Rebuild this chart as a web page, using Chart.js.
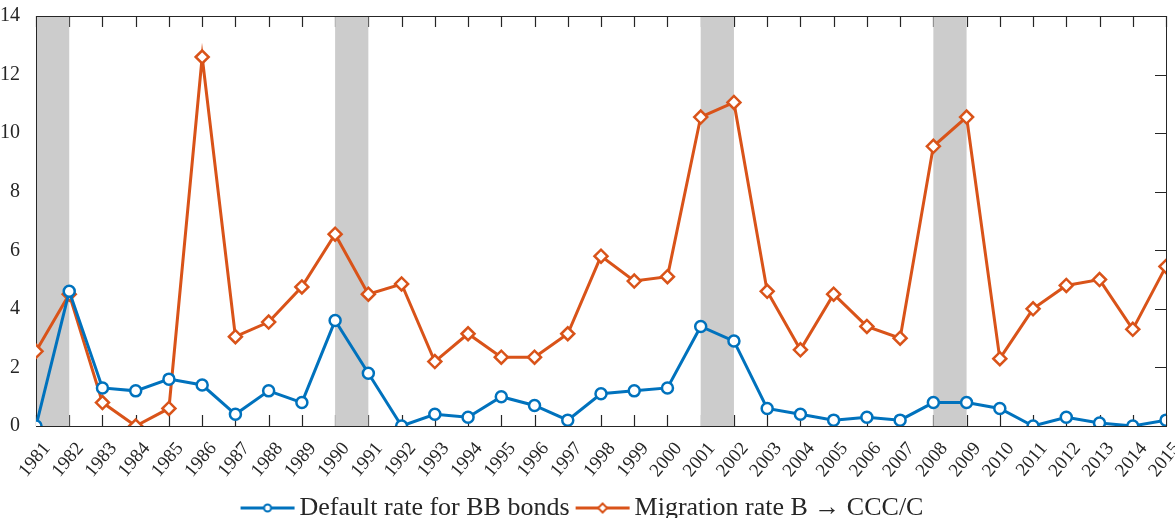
<!DOCTYPE html>
<html>
<head>
<meta charset="utf-8">
<script src="https://cdn.jsdelivr.net/npm/chart.js@4.4.1/dist/chart.umd.min.js"></script>
<style>
  html, body { margin: 0; padding: 0; background: #fff; }
  #wrap { width: 1175px; height: 518px; position: relative; }
</style>
</head>
<body>
<div id="wrap"><canvas id="chart"></canvas></div>
<script>
// years on the x axis
var years = [];
for (var yr = 1981; yr <= 2015; yr++) years.push(yr);

// default rate for BB bonds (%)
var defaultBB = [0.0, 4.6, 1.3, 1.2, 1.6, 1.4, 0.4, 1.2, 0.8, 3.6,
                 1.8, 0.0, 0.4, 0.3, 1.0, 0.7, 0.2, 1.1, 1.2, 1.3,
                 3.4, 2.9, 0.6, 0.4, 0.2, 0.3, 0.2, 0.8, 0.8, 0.6,
                 0.0, 0.3, 0.1, 0.0, 0.2];

// migration rate B -> CCC/C (%)
var migrationB = [2.55, 4.5, 0.8, 0.0, 0.6, 12.6, 3.05, 3.55, 4.75, 6.55,
                  4.5, 4.85, 2.2, 3.15, 2.35, 2.35, 3.15, 5.8, 4.95, 5.1,
                  10.55, 11.05, 4.6, 2.6, 4.5, 3.4, 3.0, 9.55, 10.55, 2.3,
                  4.0, 4.8, 5.0, 3.3, 5.45];

// recession bands [start, end]
var recessions = [[1981, 1982], [1990, 1991], [2001, 2002], [2008, 2009]];

var yTicks = [0, 2, 4, 6, 8, 10, 12, 14];

var blue = '#0072BD';
var orange = '#D95319';
var axisColor = '#262626';
var fontFamily = '"Liberation Serif", "Times New Roman", serif';

function toPoints(arr) {
    return years.map(function(y, i) { return { x: y, y: arr[i] }; });
}

// legend symbol: short line with a small marker in the middle
function legendSymbol(color, shape) {
    var c = document.createElement('canvas');
    c.width = 56;
    c.height = 12;
    var g = c.getContext('2d');
    g.strokeStyle = color;
    g.lineWidth = 3;
    g.beginPath();
    g.moveTo(1, 6);
    g.lineTo(55, 6);
    g.stroke();
    g.fillStyle = '#fff';
    g.lineWidth = 2;
    g.beginPath();
    if (shape === 'circle') {
        g.arc(28, 6, 3.5, 0, Math.PI * 2);
    } else {
        g.moveTo(28, 1.5); g.lineTo(32.5, 6); g.lineTo(28, 10.5); g.lineTo(23.5, 6); g.closePath();
    }
    g.fill();
    g.stroke();
    return c;
}

var boxPlugin = {
    id: 'boxPlugin',
    afterLayout: function(chart) {
        // let the rotated year labels run below the short x scale box
        chart.scales.x.bottom = chart.height;
        // push legend down toward the bottom edge
        var lg = chart.legend;
        if (lg) {
            lg.top += 13;
            lg.bottom += 13;
        }
    },
    beforeDatasetsDraw: function(chart) {
        var ctx = chart.ctx, a = chart.chartArea;
        var xs = chart.scales.x, ys = chart.scales.y;
        var len = 11;
        ctx.save();
        ctx.strokeStyle = axisColor;
        ctx.lineWidth = 1.2;
        ctx.beginPath();
        years.forEach(function(v) {
            var px = Math.round(xs.getPixelForValue(v)) + 0.5;
            ctx.moveTo(px, a.top); ctx.lineTo(px, a.top + len);
            ctx.moveTo(px, a.bottom); ctx.lineTo(px, a.bottom - len);
        });
        yTicks.forEach(function(v) {
            var py = Math.round(ys.getPixelForValue(v)) + 0.5;
            ctx.moveTo(a.left, py); ctx.lineTo(a.left + len, py);
            ctx.moveTo(a.right, py); ctx.lineTo(a.right - len, py);
        });
        ctx.stroke();

        ctx.fillStyle = '#CCCCCC';
        recessions.forEach(function(r) {
            var x0 = xs.getPixelForValue(r[0]), x1 = xs.getPixelForValue(r[1]);
            ctx.fillRect(x0, a.top, x1 - x0, a.bottom - a.top);
        });

        ctx.lineWidth = 1;
        ctx.strokeRect(Math.round(a.left) + 0.5, Math.round(a.top) + 0.5,
            Math.round(a.right - a.left), Math.round(a.bottom - a.top));
        ctx.restore();
    }
};

var chart = new Chart(document.getElementById('chart'), {
    type: 'line',
    data: {
        datasets: [
            {
                label: 'Default rate for BB bonds',
                data: toPoints(defaultBB),
                borderColor: blue,
                backgroundColor: '#fff',
                borderWidth: 3,
                pointStyle: 'circle',
                pointRadius: 5.5,
                pointBorderWidth: 2.5,
                pointBackgroundColor: '#fff',
                pointBorderColor: blue,
                tension: 0
            },
            {
                label: 'Migration rate B \u2192 CCC/C',
                data: toPoints(migrationB),
                borderColor: orange,
                backgroundColor: '#fff',
                borderWidth: 3,
                pointStyle: 'rectRot',
                pointRadius: 6.5,
                pointBorderWidth: 2.5,
                pointBackgroundColor: '#fff',
                pointBorderColor: orange,
                tension: 0
            }
        ]
    },
    options: {
        responsive: true,
        maintainAspectRatio: false,
        animation: false,
        layout: { padding: { top: 16, right: 3, left: 0, bottom: 0 } },
        plugins: {
            tooltip: { enabled: false },
            legend: {
                position: 'bottom',
                labels: {
                    usePointStyle: true,
                    pointStyleWidth: 38,
                    padding: 14,
                    color: axisColor,
                    font: { family: fontFamily, size: 26 },
                    generateLabels: function(ch) {
                        return ch.data.datasets.map(function(ds, i) {
                            return {
                                text: ds.label,
                                datasetIndex: i,
                                pointStyle: legendSymbol(ds.borderColor, i === 0 ? 'circle' : 'diamond'),
                                fontColor: axisColor,
                                lineWidth: 0,
                                hidden: false
                            };
                        });
                    }
                }
            }
        },
        scales: {
            x: {
                type: 'linear',
                min: years[0],
                max: years[years.length - 1],
                grid: { display: false },
                border: { display: false },
                afterBuildTicks: function(scale) {
                    scale.ticks = years.map(function(v) { return { value: v }; });
                },
                afterFit: function(scale) {
                    scale.paddingLeft = 0;
                    scale.paddingRight = 0;
                    scale.height = 42;
                },
                ticks: {
                    autoSkip: false,
                    minRotation: 50,
                    maxRotation: 50,
                    padding: 4,
                    labelOffset: 11,
                    color: axisColor,
                    font: { family: fontFamily, size: 19 },
                    callback: function(v) { return String(v); }
                }
            },
            y: {
                min: 0,
                max: 14,
                grid: { display: false },
                border: { display: false },
                afterBuildTicks: function(scale) {
                    scale.ticks = yTicks.map(function(v) { return { value: v }; });
                },
                afterFit: function(scale) {
                    scale.width = 36;
                    scale.paddingTop = 0;
                    scale.paddingBottom = 0;
                },
                ticks: {
                    padding: 8,
                    color: axisColor,
                    font: { family: fontFamily, size: 20 },
                    callback: function(v) { return String(v); }
                }
            }
        }
    },
    plugins: [boxPlugin]
});
</script>
</body>
</html>
